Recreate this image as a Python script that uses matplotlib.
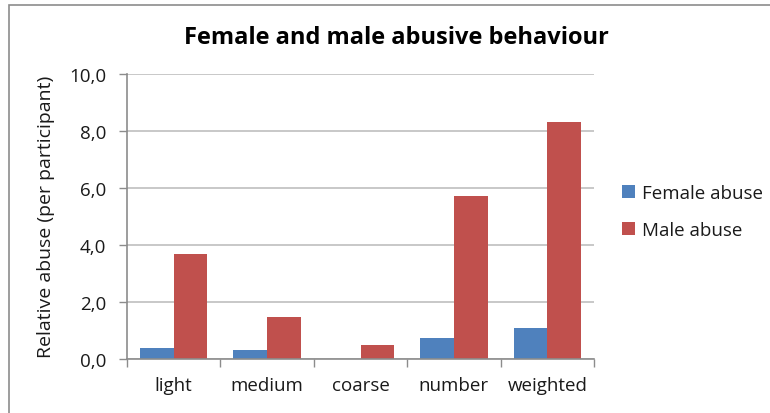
import matplotlib
matplotlib.use("Agg")
import matplotlib.pyplot as plt
import numpy as np
from matplotlib.patches import Rectangle

categories = ["light", "medium", "coarse", "number", "weighted"]
female_abuse = [0.40, 0.32, 0.0, 0.72, 1.07]
male_abuse = [3.67, 1.48, 0.50, 5.71, 8.31]
y_ticks = [0, 2, 4, 6, 8, 10]
y_tick_labels = ["0,0", "2,0", "4,0", "6,0", "8,0", "10,0"]

plt.rcParams["font.family"] = ["Open Sans", "DejaVu Sans"]
FS = 13.5

fig = plt.figure(figsize=(7.7, 4.14), dpi=100)
fig.patches.append(Rectangle((9 / 770, -0.1), 1.2, 1.1 - 5.5 / 414,
                             transform=fig.transFigure, fill=False,
                             edgecolor="#8c8c8c", linewidth=1.2))

ax = fig.add_axes([127 / 770, 54 / 414, 467 / 770, 285.3 / 414])
x = np.arange(len(categories))
w = 0.36
ax.bar(x - w / 2, female_abuse, w, color="#4f81bd", label="Female abuse")
ax.bar(x + w / 2, male_abuse, w, color="#c0504d", label="Male abuse")

ax.set_xlim(-0.5, len(categories) - 0.5)
ax.set_ylim(0, 10)
ax.set_yticks(y_ticks)
ax.set_yticklabels(y_tick_labels, fontsize=FS, color="#1a1a1a")
ax.set_xticks(x)
ax.set_xticklabels(categories, fontsize=FS, color="#1a1a1a")
ax.tick_params(axis="x", length=0, pad=12)
ax.set_xticks(np.arange(-0.5, len(categories)), minor=True)
ax.tick_params(axis="x", which="minor", length=6, color="#8c8c8c", width=1)
ax.tick_params(axis="y", length=6, color="#8c8c8c", width=1, pad=9)
ax.yaxis.grid(True, color="#bfbfbf", linewidth=1.2)
ax.set_axisbelow(True)
for s in ["top", "right"]:
    ax.spines[s].set_visible(False)
for s in ["left", "bottom"]:
    ax.spines[s].set_color("#8c8c8c")
    ax.spines[s].set_linewidth(1.2)

ax.set_ylabel("Relative abuse (per participant)", fontsize=14, color="#1a1a1a", labelpad=10)
fig.text(396 / 770, 1 - 38 / 414, "Female and male abusive behaviour",
         ha="center", va="center", fontsize=17, fontweight="bold", color="#000000")

leg = fig.legend(loc="upper left", bbox_to_anchor=(605 / 770, 1 - 168 / 414),
                 frameon=False, fontsize=FS, handlelength=0.7, handleheight=0.7,
                 labelspacing=1.0, handletextpad=0.4)
for t in leg.get_texts():
    t.set_color("#1a1a1a")

fig.savefig("out.png", dpi=100)
